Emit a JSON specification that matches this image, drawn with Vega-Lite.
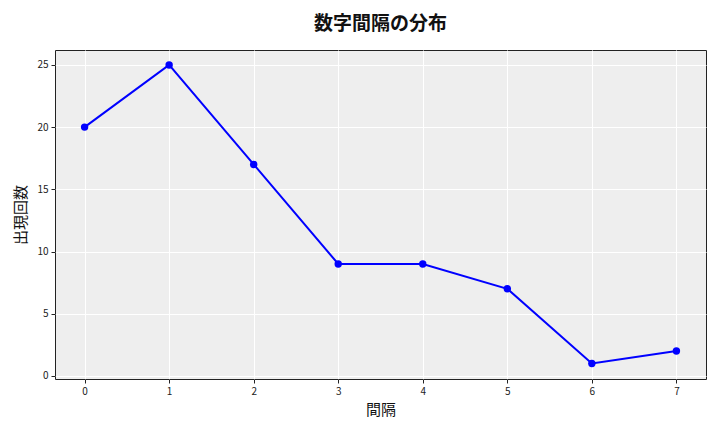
{
  "$schema": "https://vega.github.io/schema/vega-lite/v6.json",
  "autosize": {"type": "none"},
  "width": 651,
  "height": 329,
  "padding": {"left": 55, "top": 50, "right": 14, "bottom": 53},
  "background": "white",
  "title": {
    "text": "数字間隔の分布",
    "font": "Noto Sans CJK JP",
    "fontSize": 19,
    "fontWeight": "bold",
    "color": "#111111",
    "offset": 16,
    "anchor": "middle"
  },
  "data": {
    "values": [
      {"gap": 0, "count": 20},
      {"gap": 1, "count": 25},
      {"gap": 2, "count": 17},
      {"gap": 3, "count": 9},
      {"gap": 4, "count": 9},
      {"gap": 5, "count": 7},
      {"gap": 6, "count": 1},
      {"gap": 7, "count": 2}
    ]
  },
  "mark": {
    "type": "line",
    "color": "#0000ff",
    "strokeWidth": 2,
    "point": {"filled": true, "size": 55, "color": "#0000ff", "opacity": 1}
  },
  "encoding": {
    "x": {
      "field": "gap",
      "type": "quantitative",
      "title": "間隔",
      "scale": {"domain": [-0.35, 7.35], "nice": false, "zero": false},
      "axis": {"values": [0, 1, 2, 3, 4, 5, 6, 7], "format": "d"}
    },
    "y": {
      "field": "count",
      "type": "quantitative",
      "title": "出現回数",
      "scale": {"domain": [-0.25, 26.2], "nice": false, "zero": false},
      "axis": {"values": [0, 5, 10, 15, 20, 25], "format": "d"}
    }
  },
  "config": {
    "font": "Noto Sans CJK JP",
    "view": {"fill": "#eeeeee", "stroke": "#222222", "strokeWidth": 1},
    "axis": {
      "grid": true,
      "gridColor": "#ffffff",
      "gridWidth": 1,
      "domain": false,
      "ticks": true,
      "tickColor": "#222222",
      "tickSize": 4,
      "labelFont": "Noto Sans CJK JP",
      "labelFontSize": 10,
      "labelColor": "#222222",
      "labelPadding": 3,
      "titleFont": "Noto Sans CJK JP",
      "titleFontSize": 15,
      "titleFontWeight": "normal",
      "titleColor": "#111111"
    },
    "axisX": {"titlePadding": 6, "labelAngle": 0},
    "axisY": {"titlePadding": 8}
  }
}
